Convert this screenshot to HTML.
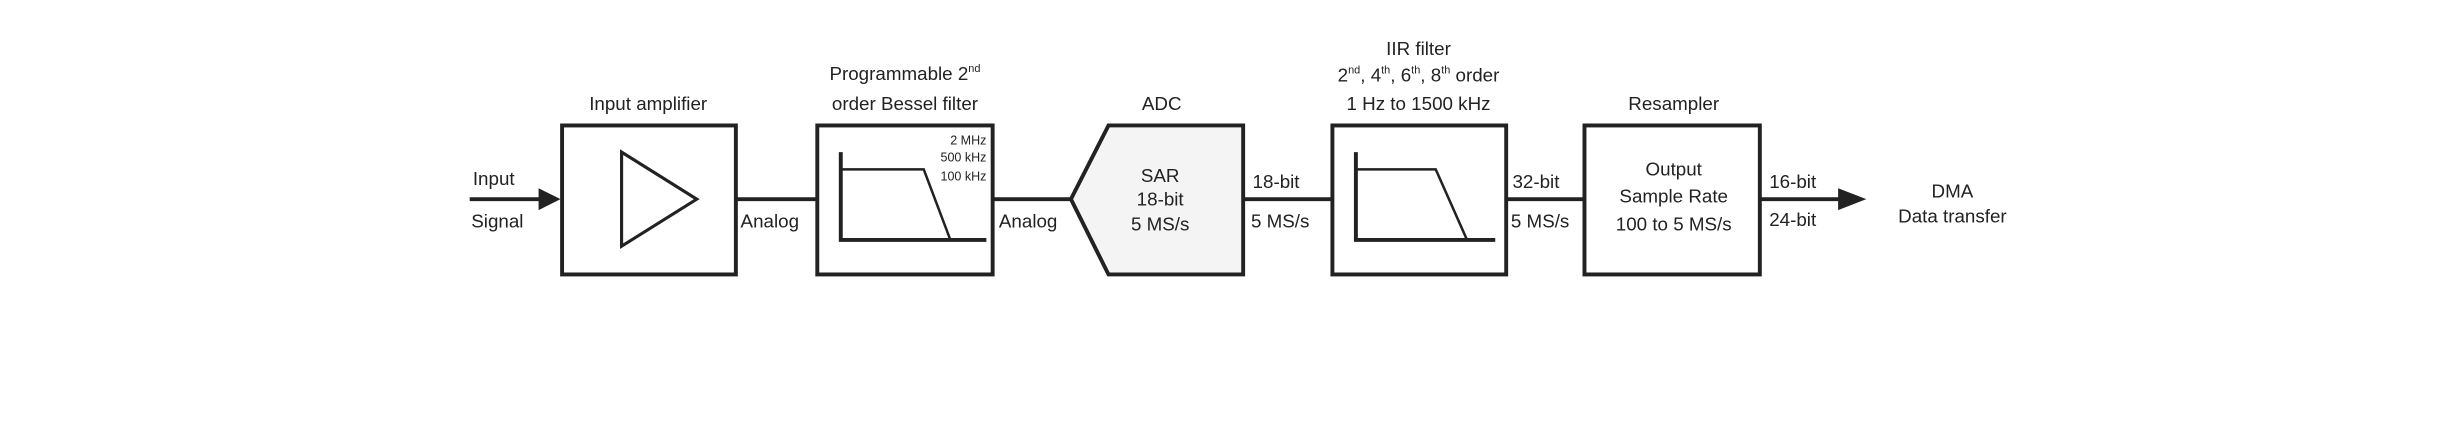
<!DOCTYPE html>
<html><head><meta charset="utf-8"><style>
html,body{margin:0;padding:0;background:#fff;}
svg{display:block;}
text{font-family:"Liberation Sans",sans-serif;font-size:12px;fill:#222;}
text.sm{font-size:8px;}
</style></head><body>
<svg width="2455" height="425" viewBox="0 0 1568 271" preserveAspectRatio="none">
<g stroke="#222" stroke-width="2.5" fill="none">
<line x1="300" y1="127" x2="346" y2="127"/>
<rect x="359" y="80" width="111" height="95"/>
<polygon points="397,97 445,127 397,157" stroke-width="2"/>
<line x1="470" y1="127" x2="522" y2="127"/>
<rect x="522" y="80" width="112" height="95"/>
<polyline points="537,97 537,153 630,153" stroke-width="2.5"/>
<polyline points="537,108 590,108 607,153" stroke-width="1.6"/>
<line x1="634" y1="127" x2="684" y2="127"/>
<polygon points="684,127 708,80 794,80 794,175 708,175" fill="#f4f4f4"/>
<line x1="794" y1="127" x2="851" y2="127"/>
<rect x="851" y="80" width="111" height="95"/>
<polyline points="866,97 866,153 955,153" stroke-width="2.5"/>
<polyline points="866,108 917,108 937,153" stroke-width="1.6"/>
<line x1="962" y1="127" x2="1012" y2="127"/>
<rect x="1012" y="80" width="112" height="95"/>
<line x1="1124" y1="127" x2="1176" y2="127"/>
</g>
<polygon points="344,120 358,127 344,134" fill="#222"/>
<polygon points="1174,120 1192,127 1174,134" fill="#222"/>
<text x="302" y="118">Input</text>
<text x="301" y="145">Signal</text>
<text x="414" y="70" text-anchor="middle">Input amplifier</text>
<text x="473" y="145">Analog</text>
<text x="578" y="51" text-anchor="middle">Programmable 2<tspan style="font-size:7px" dy="-5">nd</tspan></text>
<text x="578" y="70" text-anchor="middle">order Bessel filter</text>
<text class="sm" x="630" y="92" text-anchor="end">2 MHz</text>
<text class="sm" x="630" y="103" text-anchor="end">500 kHz</text>
<text class="sm" x="630" y="115" text-anchor="end">100 kHz</text>
<text x="638" y="145">Analog</text>
<text x="742" y="70" text-anchor="middle">ADC</text>
<text x="741" y="116" text-anchor="middle">SAR</text>
<text x="741" y="131" text-anchor="middle">18-bit</text>
<text x="741" y="147" text-anchor="middle">5 MS/s</text>
<text x="800" y="120">18-bit</text>
<text x="799" y="145">5 MS/s</text>
<text x="906" y="35" text-anchor="middle">IIR filter</text>
<text x="906" y="52" text-anchor="middle">2<tspan style="font-size:7px" dy="-5">nd</tspan><tspan dy="5">, 4</tspan><tspan style="font-size:7px" dy="-5">th</tspan><tspan dy="5">, 6</tspan><tspan style="font-size:7px" dy="-5">th</tspan><tspan dy="5">, 8</tspan><tspan style="font-size:7px" dy="-5">th</tspan><tspan dy="5"> order</tspan></text>
<text x="906" y="70" text-anchor="middle">1 Hz to 1500 kHz</text>
<text x="966" y="120">32-bit</text>
<text x="965" y="145">5 MS/s</text>
<text x="1069" y="70" text-anchor="middle">Resampler</text>
<text x="1069" y="112" text-anchor="middle">Output</text>
<text x="1069" y="129" text-anchor="middle">Sample Rate</text>
<text x="1069" y="147" text-anchor="middle">100 to 5 MS/s</text>
<text x="1130" y="120">16-bit</text>
<text x="1130" y="144">24-bit</text>
<text x="1247" y="126" text-anchor="middle">DMA</text>
<text x="1247" y="142" text-anchor="middle">Data transfer</text>
</svg>
</body></html>
